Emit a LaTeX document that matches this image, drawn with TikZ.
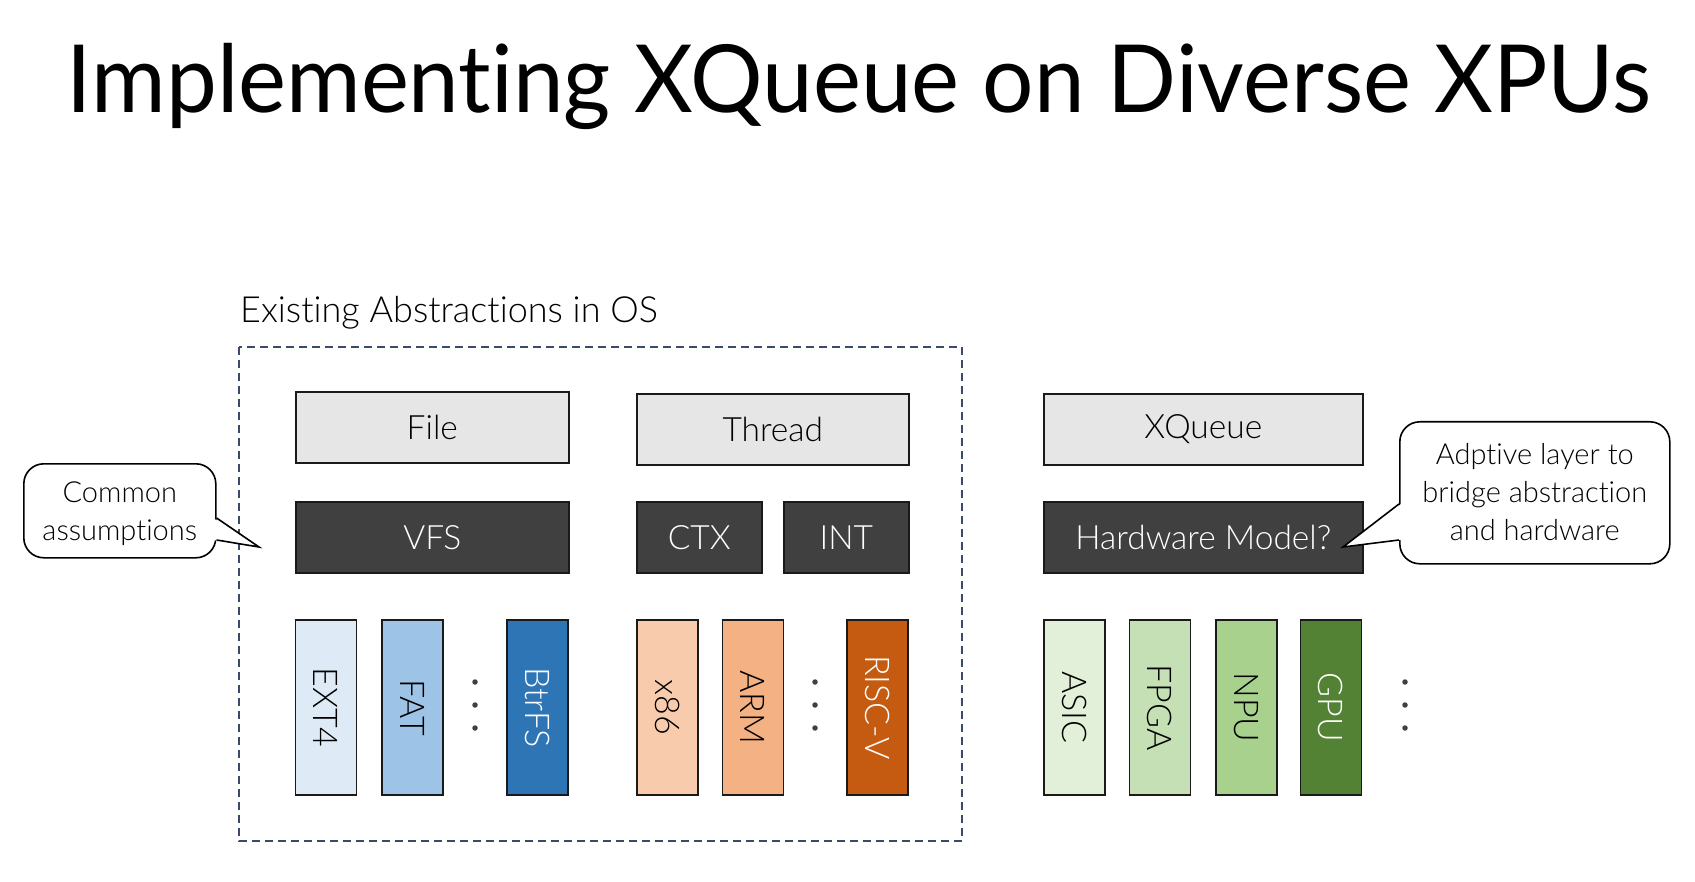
\documentclass[tikz,border=0pt]{standalone}
\usepackage{fontspec}
\setmainfont{Lato}
\newfontfamily\titlefont{Lato}[Ligatures=NoCommon]
\IfFontExistsTF{Lato Light}{\newfontfamily\bodyfont{Lato Light}[Ligatures=NoCommon]}{\newfontfamily\bodyfont{Lato}[Ligatures=NoCommon]}
\definecolor{boxgray}{HTML}{E6E6E6}
\definecolor{boxdark}{HTML}{404040}
\definecolor{edgec}{HTML}{1A1A1A}
\definecolor{dashc}{HTML}{3A4A6A}
\definecolor{bA}{HTML}{DEEBF7}
\definecolor{bB}{HTML}{9DC3E6}
\definecolor{bC}{HTML}{2E75B6}
\definecolor{oA}{HTML}{F8CBAD}
\definecolor{oB}{HTML}{F4B183}
\definecolor{oC}{HTML}{C55A11}
\definecolor{gA}{HTML}{E2F0D9}
\definecolor{gB}{HTML}{C5E0B4}
\definecolor{gC}{HTML}{A9D18E}
\definecolor{gD}{HTML}{548235}
\begin{document}
\begin{tikzpicture}[x=1pt,y=-1pt,
  lightbox/.style={draw=edgec, line width=1.6pt, fill=boxgray, inner sep=0pt, anchor=north west,
    text=black, font=\bodyfont\fontsize{33.5}{38}\selectfont},
  darkbox/.style={lightbox, fill=boxdark, text=white},
  tallbox/.style={draw=edgec, line width=1.6pt, inner sep=0pt, rotate=-90,
    minimum width=175pt, minimum height=61pt, font=\bodyfont\fontsize{34}{38}\selectfont},
  dotc/.style={circle, fill=boxdark, inner sep=0pt, minimum size=5.5pt},
  calltext/.style={align=center, font=\bodyfont\fontsize{29}{38}\selectfont, inner sep=0pt},
  callbox/.style={draw=black, line width=1.6pt, fill=white, rounded corners=20pt, inner sep=0pt, anchor=north west},
  pointer/.style={draw=black, line width=1.6pt, line join=miter}
]
\useasboundingbox (0,0) rectangle (1695,882);
\fill[white] (0,0) rectangle (1695,882);

% title
\node[anchor=base, inner sep=0pt, font=\titlefont\fontsize{94}{110}\selectfont] (title) at (859,113) {\scalebox{0.965}[1]{Implementing XQueue on Diverse XPUs}};

% existing abstractions
\node[anchor=base west, inner sep=0pt, font=\bodyfont\fontsize{36}{40}\selectfont] (exist) at (240,323) {Existing Abstractions in OS};
\draw[dashc, line width=1.8pt, dash pattern=on 8pt off 5pt] (239,347) rectangle (962,841);

% row 1
\node[lightbox, minimum width=273pt, minimum height=71pt] (file) at (295,391) {File};
\node[lightbox, minimum width=272pt, minimum height=71pt] (thread) at (636,393) {Thread};
\node[lightbox, minimum width=319pt, minimum height=71pt] (xqueue) at (1043,393) {XQueue};

% row 2
\node[darkbox, minimum width=273pt, minimum height=71pt] (vfs) at (295,501) {VFS};
\node[darkbox, minimum width=125pt, minimum height=71pt] (ctx) at (636,501) {CTX};
\node[darkbox, minimum width=125pt, minimum height=71pt] (int) at (783,501) {INT};
\node[darkbox, minimum width=319pt, minimum height=71pt] (hw) at (1043,501) {Hardware Model?};

% row 3
\node[tallbox, fill=bA] (ext4) at (326,707.5) {EXT4};
\node[tallbox, fill=bB] (fat) at (412.5,707.5) {FAT};
\node[tallbox, fill=bC, text=white] (btrfs) at (537.5,707.5) {BtrFS};
\node[tallbox, fill=oA] (x86) at (667.5,707.5) {x86};
\node[tallbox, fill=oB] (arm) at (753,707.5) {ARM};
\node[tallbox, fill=oC, text=white] (riscv) at (877.5,707.5) {RISC-V};
\node[tallbox, fill=gA] (asic) at (1074.5,707.5) {ASIC};
\node[tallbox, fill=gB] (fpga) at (1160,707.5) {FPGA};
\node[tallbox, fill=gC] (npu) at (1246.5,707.5) {NPU};
\node[tallbox, fill=gD, text=white] (gpu) at (1331,707.5) {GPU};

% dots
\foreach \xx/\nm in {475/a,815/b,1405/c}{
  \node[dotc] (d\nm1) at (\xx,682) {};
  \node[dotc] (d\nm2) at (\xx,705) {};
  \node[dotc] (d\nm3) at (\xx,728) {};
}

% callout 1
\node[callbox, minimum width=192pt, minimum height=94pt] (cb1) at (23,463) {};
\coordinate (tip1) at (259,547);
\fill[white] (213,518) -- (tip1) -- (213,540) -- cycle;
\draw[pointer] (cb1.east |- 0,518) -- (tip1) -- (cb1.east |- 0,540);
\node[calltext] (c1) at (cb1.center) [yshift=-3pt] {Common\\assumptions};

% callout 2
\node[callbox, minimum width=270pt, minimum height=142pt] (cb2) at (1399,421) {};
\coordinate (tip2) at (1343,547);
\fill[white] (1401,504) -- (tip2) -- (1401,540) -- cycle;
\draw[pointer] (cb2.west |- 0,504) -- (tip2) -- (cb2.west |- 0,540);
\node[calltext] (c2) at (cb2.center) [yshift=1pt] {Adptive layer to\\bridge abstraction\\and hardware};
\end{tikzpicture}
\end{document}
